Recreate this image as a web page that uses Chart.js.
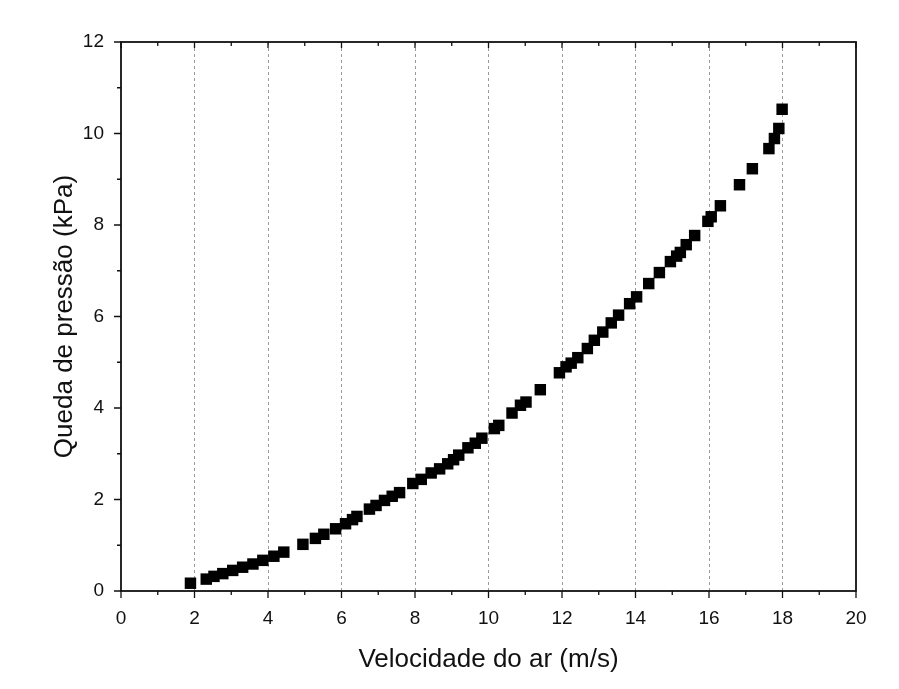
<!DOCTYPE html>
<html>
<head>
<meta charset="utf-8">
<script src="https://cdn.jsdelivr.net/npm/chart.js@4.4.1/dist/chart.umd.min.js"></script>
<style>
  html, body { margin: 0; padding: 0; background: #fff; }
</style>
</head>
<body>
<canvas id="chart" width="899" height="689"></canvas>
<script>
// air velocity (m/s) and pressure drop (kPa)
const velocity = [1.89, 2.32, 2.53, 2.77, 3.04, 3.31, 3.59, 3.86, 4.16, 4.43,
  4.95, 5.29, 5.52, 5.84, 6.11, 6.30, 6.42, 6.76, 6.94, 7.17,
  7.38, 7.58, 7.94, 8.17, 8.44, 8.67, 8.89, 9.05, 9.19, 9.44,
  9.64, 9.82, 10.16, 10.28, 10.64, 10.87, 11.02, 11.41, 11.93, 12.11,
  12.25, 12.43, 12.69, 12.88, 13.11, 13.34, 13.54, 13.84, 14.03, 14.36,
  14.65, 14.95, 15.12, 15.22, 15.38, 15.61, 15.97, 16.06, 16.31, 16.83,
  17.18, 17.63, 17.78, 17.90, 17.99];
const pressureDrop = [0.17, 0.26, 0.32, 0.38, 0.45, 0.52, 0.59, 0.67, 0.76, 0.85,
  1.02, 1.15, 1.24, 1.36, 1.47, 1.56, 1.63, 1.79, 1.87, 1.98,
  2.07, 2.15, 2.35, 2.44, 2.58, 2.67, 2.78, 2.87, 2.97, 3.13,
  3.23, 3.34, 3.55, 3.62, 3.89, 4.06, 4.13, 4.40, 4.77, 4.90,
  4.98, 5.10, 5.30, 5.48, 5.66, 5.86, 6.03, 6.28, 6.43, 6.72,
  6.96, 7.20, 7.32, 7.40, 7.57, 7.77, 8.08, 8.18, 8.42, 8.88,
  9.23, 9.67, 9.89, 10.11, 10.53];

const xRange = [0, 20];
const yRange = [0, 12];
const xStep = 2;
const yStep = 2;

const fontFamily = 'Liberation Sans, Arial, sans-serif';
const points = velocity.map((v, i) => ({ x: v, y: pressureDrop[i] }));

// frame with Origin-style ticks: outward on left/bottom, inward on top
const framePlugin = {
  id: 'frame',
  afterDraw(chart) {
    const { ctx, chartArea: a, scales: { x, y } } = chart;
    ctx.save();
    ctx.strokeStyle = '#111';
    ctx.lineWidth = 1.3;
    ctx.beginPath();
    x.ticks.forEach((t, i) => {
      const px = x.getPixelForValue(t.value);
      ctx.moveTo(px, a.bottom); ctx.lineTo(px, a.bottom + 7);
      ctx.moveTo(px, a.top); ctx.lineTo(px, a.top + 6);
      if (i < x.ticks.length - 1) {
        const mx = x.getPixelForValue(t.value + xStep / 2);
        ctx.moveTo(mx, a.bottom); ctx.lineTo(mx, a.bottom + 4);
        ctx.moveTo(mx, a.top); ctx.lineTo(mx, a.top + 4);
      }
    });
    y.ticks.forEach((t, i) => {
      const py = y.getPixelForValue(t.value);
      ctx.moveTo(a.left, py); ctx.lineTo(a.left - 7, py);
      if (i < y.ticks.length - 1) {
        const my = y.getPixelForValue(t.value + yStep / 2);
        ctx.moveTo(a.left, my); ctx.lineTo(a.left - 4, my);
      }
    });
    ctx.stroke();
    ctx.lineWidth = 1.8;
    ctx.strokeRect(a.left, a.top, a.right - a.left, a.bottom - a.top);
    ctx.restore();
  }
};

new Chart(document.getElementById('chart'), {
  type: 'scatter',
  data: {
    datasets: [{
      label: 'Queda de pressão',
      data: points,
      pointStyle: 'rect',
      pointRadius: 8.1,
      pointBorderWidth: 0,
      backgroundColor: '#000',
      borderColor: '#000'
    }]
  },
  options: {
    responsive: false,
    devicePixelRatio: 1,
    animation: false,
    layout: { padding: { left: 0, top: 42, right: 43, bottom: 0 } },
    plugins: {
      legend: { display: false },
      tooltip: { enabled: false }
    },
    scales: {
      x: {
        type: 'linear',
        min: xRange[0],
        max: xRange[1],
        ticks: {
          stepSize: xStep,
          padding: 16,
          color: '#111',
          font: { family: fontFamily, size: 19 }
        },
        grid: {
          drawTicks: false,
          lineWidth: 1,
          color: c => (c.tick && (c.tick.value === xRange[0] || c.tick.value === xRange[1])) ? 'rgba(0,0,0,0)' : '#9a9a9a'
        },
        border: { display: false, dash: [3, 3] },
        title: {
          display: true,
          text: 'Velocidade do ar (m/s)',
          color: '#111',
          font: { family: fontFamily, size: 26 },
          padding: { top: 0, bottom: 14 }
        },
        afterFit: s => { s.height = 98; }
      },
      y: {
        type: 'linear',
        min: yRange[0],
        max: yRange[1],
        ticks: {
          stepSize: yStep,
          padding: 17,
          color: '#111',
          font: { family: fontFamily, size: 19 }
        },
        grid: { display: false, drawTicks: false },
        border: { display: false },
        title: {
          display: true,
          text: 'Queda de pressão (kPa)',
          color: '#111',
          font: { family: fontFamily, size: 26 },
          padding: { top: 49, bottom: 0 }
        },
        afterFit: s => { s.width = 121; }
      }
    }
  },
  plugins: [framePlugin]
});
</script>
</body>
</html>
